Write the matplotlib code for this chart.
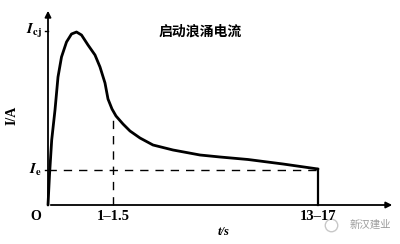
import matplotlib.pyplot as plt

# curve (t in arbitrary units, I in arbitrary units)
t = [0, 1.5, 3.7, 7, 10, 13.5, 18.5, 23.5, 28.5, 33.5, 40, 47, 52, 57, 60, 64,
     68, 75, 82, 92, 105, 125, 152, 172, 200, 235, 270]
current = [0, 30, 65, 95, 128, 148, 163, 171, 173, 170, 160, 150, 138, 122, 106, 96,
           89, 81, 74, 67, 60, 55, 50, 48, 45.5, 41, 36]

i_peak = 174
i_e = 35
t_mark = 65
t_end = 270
x_ticks = [t_mark, t_end]
x_labels = ['1\u20131.5', '13\u201317']

plt.rcParams['font.family'] = ['Liberation Serif', 'DejaVu Sans']
plt.rcParams['mathtext.fontset'] = 'stix'

fig = plt.figure(figsize=(4, 2.44), dpi=100)
ax = fig.add_axes([0, 0, 1, 1])
ax.set_xlim(-48, 352)
ax.set_ylim(-39, 205)
ax.axis('off')

# axes with arrows
ax.annotate('', xy=(347, 0), xytext=(0, 0),
            arrowprops=dict(arrowstyle='-|>', color='black', lw=1.3, mutation_scale=9))
ax.annotate('', xy=(0, 197), xytext=(0, 0),
            arrowprops=dict(arrowstyle='-|>', color='black', lw=1.3, mutation_scale=9))

ax.plot(t, current, color='black', lw=2.0, solid_capstyle='round', solid_joinstyle='round')
ax.plot([t_end, t_end], [current[-1], 0], color='black', lw=1.6)

# dashed guides
ax.plot([0, t_end], [i_e, i_e], color='black', lw=1.0, dashes=(6, 5))
ax.plot([t_mark, t_mark], [0, 90], color='black', lw=1.0, dashes=(6, 5))

# small ticks on y axis
ax.plot([-3, 0], [i_peak, i_peak], color='black', lw=1.0)
ax.plot([-3, 0], [i_e, i_e], color='black', lw=1.0)

bold = dict(fontweight='bold', color='black')
ax.text(-6, i_peak, r'$\boldsymbol{I}_{\mathbf{cj}}$', ha='right', va='center', fontsize=11, **bold)
ax.text(-6, i_e, r'$\boldsymbol{I}_{\mathbf{e}}$', ha='right', va='center', fontsize=11, **bold)
ax.text(-36, 90, 'I/A', rotation=90, ha='center', va='center', fontsize=10, **bold)
ax.text(-12, -11, 'O', ha='center', va='center', fontsize=10, **bold)
for x, lab in zip(x_ticks, x_labels):
    ax.text(x, -11, lab, ha='center', va='center', fontsize=10.5, **bold)
ax.text(176, -27, 't/s', ha='center', va='center', fontsize=9, style='italic', **bold)

ax.text(152, 173, '启动浪涌电流', ha='center', va='center', fontsize=10,
        family=['Noto Sans CJK SC', 'DejaVu Sans'], fontweight='bold', color='black')

# watermark
ax.text(322, -20, '新汉建业', ha='center', va='center', fontsize=7.5,
        family=['Noto Sans CJK SC', 'DejaVu Sans'], color='#9a9a9a')
ax.plot([283], [-20], marker='o', ms=9, mfc='none', mec='#c8c8c8', mew=1)

fig.savefig('out.png', dpi=100)
